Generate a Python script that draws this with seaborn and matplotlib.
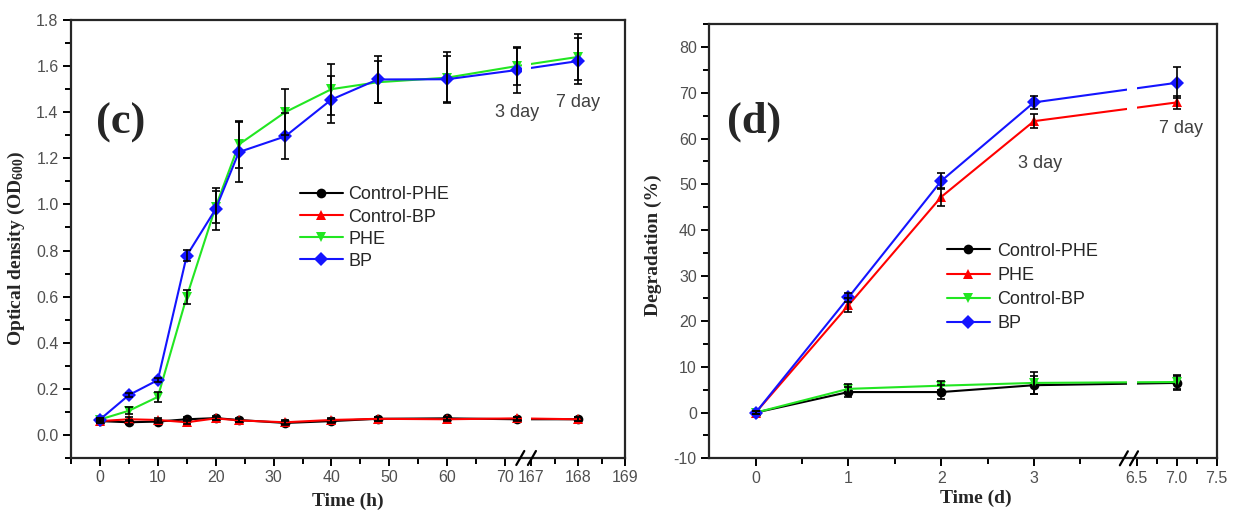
import numpy as np
import pandas as pd
import matplotlib
matplotlib.use("Agg")
import matplotlib.pyplot as plt
import matplotlib.transforms as mtransforms
from matplotlib.patches import Rectangle
from matplotlib.ticker import FixedLocator
import seaborn as sns

# (c) optical density vs time (h)
time_h = [0, 5, 10, 15, 20, 24, 32, 40, 48, 60, 72, 168]
od_ctrl_phe = [0.060, 0.055, 0.058, 0.068, 0.073, 0.065, 0.052, 0.060, 0.070, 0.072, 0.068, 0.068]
od_ctrl_bp = [0.060, 0.068, 0.065, 0.055, 0.072, 0.063, 0.055, 0.065, 0.070, 0.068, 0.072, 0.068]
od_phe = [0.067, 0.105, 0.165, 0.60, 0.99, 1.26, 1.40, 1.50, 1.53, 1.55, 1.60, 1.64]
od_bp = [0.067, 0.173, 0.238, 0.778, 0.98, 1.227, 1.295, 1.455, 1.542, 1.543, 1.583, 1.622]
od_err_ctrl = [0.008] * 12
od_err_phe = [0.005, 0.015, 0.02, 0.03, 0.07, 0.10, 0.10, 0.11, 0.09, 0.11, 0.08, 0.10]
od_err_bp = [0.005, 0.01, 0.01, 0.025, 0.09, 0.13, 0.10, 0.10, 0.10, 0.10, 0.10, 0.10]

# (d) degradation vs time (d)
time_d = [0, 1, 2, 3, 7]
deg_ctrl_phe = [0, 4.5, 4.5, 6.0, 6.5]
deg_phe = [0, 23.5, 47.2, 63.8, 67.9]
deg_ctrl_bp = [0, 5.2, 5.9, 6.5, 6.7]
deg_bp = [0, 25.2, 50.7, 67.9, 72.2]
deg_err_ctrl_phe = [0.3, 1.0, 1.5, 2.0, 1.5]
deg_err_phe = [0.3, 1.5, 2.0, 1.5, 1.5]
deg_err_ctrl_bp = [0.3, 1.0, 1.0, 2.4, 1.6]
deg_err_bp = [0.3, 1.0, 1.8, 1.5, 3.4]

# both panels colour the series by legend position, not by name
pos_colors = ["#000000", "#ff0000", "#22e622", "#1414ff"]
pos_markers = ["o", "^", "v", "D"]

sns.set_style("ticks")
plt.rcParams["font.family"] = ["Liberation Sans", "DejaVu Sans"]
plt.rcParams["axes.unicode_minus"] = False
plt.rcParams["mathtext.fontset"] = "custom"
plt.rcParams["mathtext.rm"] = "Liberation Serif:bold"
plt.rcParams["mathtext.it"] = "Liberation Serif:italic:bold"
plt.rcParams["mathtext.bf"] = "Liberation Serif:bold"

label_font = dict(family="Liberation Serif", weight="bold", size=14)
tick_color = "#505050"


def broken_scale(knots_x, knots_t):
    def fwd(v):
        return np.interp(v, knots_x, knots_t)

    def inv(v):
        return np.interp(v, knots_t, knots_x)
    return fwd, inv


def draw_panel(ax, x, series, errors, order, scale_knots, xlim, ylim,
               xmajor, xlabels, xminor, ymajor, yminor, yfmt):
    df = pd.concat([pd.DataFrame({"time": x, "value": series[k], "series": k}) for k in order])
    palette = dict(zip(order, pos_colors))
    marks = dict(zip(order, pos_markers))
    ax.set_xscale("function", functions=broken_scale(*scale_knots))
    sns.lineplot(data=df, x="time", y="value", hue="series", style="series",
                 hue_order=order, style_order=order, palette=palette, markers=marks,
                 dashes=False, linewidth=1.5, markersize=7, markeredgewidth=0, ax=ax)
    for k in order:
        ax.errorbar(x, series[k], yerr=errors[k], fmt="none", ecolor="black",
                    elinewidth=1.2, capsize=3, capthick=1.2, zorder=2.2)
    ax.set_xlim(*xlim)
    ax.set_ylim(*ylim)
    ax.xaxis.set_major_locator(FixedLocator(xmajor))
    ax.set_xticklabels(xlabels)
    ax.xaxis.set_minor_locator(FixedLocator(xminor))
    ax.yaxis.set_major_locator(FixedLocator(ymajor))
    ax.set_yticklabels([yfmt.format(v) for v in ymajor])
    ax.yaxis.set_minor_locator(FixedLocator(yminor))
    ax.tick_params(which="both", direction="out", width=1.4, colors="black",
                   labelcolor=tick_color, labelsize=11.5, pad=3, top=False, right=False)
    ax.tick_params(which="major", length=6)
    ax.tick_params(which="minor", length=4)
    for sp in ax.spines.values():
        sp.set_linewidth(1.6)
        sp.set_visible(True)


fig = plt.figure(figsize=(12.33, 5.17), dpi=100)
ax_c = fig.add_axes([71 / 1233, 1 - 458 / 517, 554 / 1233, 438 / 517])
ax_d = fig.add_axes([709.3 / 1233, 1 - 458.3 / 517, 507.4 / 1233, 434 / 517])

# panel (c)
order_c = ["Control-PHE", "Control-BP", "PHE", "BP"]
draw_panel(
    ax_c, time_h,
    {"Control-PHE": od_ctrl_phe, "Control-BP": od_ctrl_bp, "PHE": od_phe, "BP": od_bp},
    {"Control-PHE": od_err_ctrl, "Control-BP": od_err_ctrl, "PHE": od_err_phe, "BP": od_err_bp},
    order_c,
    ([-5, 73.7, 166.9, 169], [-5, 73.7, 73.75, 73.75 + 2.1 * 8.08]),
    (-5, 169), (-0.1, 1.8),
    [0, 10, 20, 30, 40, 50, 60, 70, 167, 168, 169],
    ["0", "10", "20", "30", "40", "50", "60", "70", "167", "168", "169"],
    [-5, 5, 15, 25, 35, 45, 55, 65, 167.5, 168.5],
    [0.0, 0.2, 0.4, 0.6, 0.8, 1.0, 1.2, 1.4, 1.6, 1.8],
    [-0.1, 0.1, 0.3, 0.5, 0.7, 0.9, 1.1, 1.3, 1.5, 1.7],
    "{:.1f}",
)
ax_c.set_xlabel("Time (h)", fontdict=label_font)
ax_c.set_ylabel(r"Optical density (OD$_{600}$)", fontdict=label_font)
ax_c.xaxis.set_label_coords(0.5, -0.08)
ax_c.yaxis.set_label_coords(-0.079, 0.48)
ax_c.text(0.09, 0.765, "(c)", transform=ax_c.transAxes, ha="center", va="center",
          family="Liberation Serif", weight="bold", size=32)
ax_c.text(72, 1.40, "3 day", ha="center", va="center", size=13, color="#404040", zorder=6)
ax_c.text(168, 1.44, "7 day", ha="center", va="center", size=13, color="#404040", zorder=6)
sns.move_legend(ax_c, "center left", bbox_to_anchor=(0.413, 0.525), frameon=False,
                title=None, fontsize=13, labelspacing=0.28, handlelength=2.4,
                handletextpad=0.3, borderpad=0, borderaxespad=0)

# panel (d)
order_d = ["Control-PHE", "PHE", "Control-BP", "BP"]
draw_panel(
    ax_d, time_d,
    {"Control-PHE": deg_ctrl_phe, "PHE": deg_phe, "Control-BP": deg_ctrl_bp, "BP": deg_bp},
    {"Control-PHE": deg_err_ctrl_phe, "PHE": deg_err_phe, "Control-BP": deg_err_ctrl_bp, "BP": deg_err_bp},
    order_d,
    ([-0.5, 4.0, 6.5, 7.5], [-0.5, 4.0, 4.108, 4.108 + 80 / 92.7]),
    (-0.5, 7.5), (-10, 85),
    [0, 1, 2, 3, 6.5, 7.0, 7.5],
    ["0", "1", "2", "3", "6.5", "7.0", "7.5"],
    [0.5, 1.5, 2.5, 3.5, 6.75, 7.25],
    [-10, 0, 10, 20, 30, 40, 50, 60, 70, 80],
    [-5, 5, 15, 25, 35, 45, 55, 65, 75, 85],
    "{:d}",
)
ax_d.set_xlabel("Time (d)", fontdict=label_font)
ax_d.set_ylabel("Degradation (%)", fontdict=label_font)
ax_d.xaxis.set_label_coords(0.525, -0.073)
ax_d.yaxis.set_label_coords(-0.093, 0.49)
ax_d.text(0.088, 0.775, "(d)", transform=ax_d.transAxes, ha="center", va="center",
          family="Liberation Serif", weight="bold", size=32)
ax_d.text(3.07, 54.6, "3 day", ha="center", va="center", size=13, color="#404040", zorder=6)
ax_d.text(7.06, 62.1, "7 day", ha="center", va="center", size=13, color="#404040", zorder=6)
sns.move_legend(ax_d, "center left", bbox_to_anchor=(0.468, 0.3935), frameon=False,
                title=None, fontsize=13, labelspacing=0.4, handlelength=2.4,
                handletextpad=0.4, borderpad=0, borderaxespad=0)

# axis breaks: white gap in the lines and // on the bottom spine
for ax, gap, slashes, w, h in [
    (ax_c, (73.0, 167.0), (0.811, 0.832), 554, 438),
    (ax_d, (4.0, 6.5), (0.817, 0.837), 507.4, 434),
]:
    trans = mtransforms.blended_transform_factory(ax.transData, ax.transAxes)
    ax.add_patch(Rectangle((gap[0], 0.03), gap[1] - gap[0], 0.94, transform=trans,
                           facecolor="white", edgecolor="none", zorder=3))
    dx, dy = 4 / w, 7 / h
    for cx in slashes:
        ax.plot([cx - dx, cx + dx], [-dy, dy], transform=ax.transAxes, color="black",
                lw=1.6, clip_on=False, zorder=5)

fig.savefig("out.png", dpi=100)
